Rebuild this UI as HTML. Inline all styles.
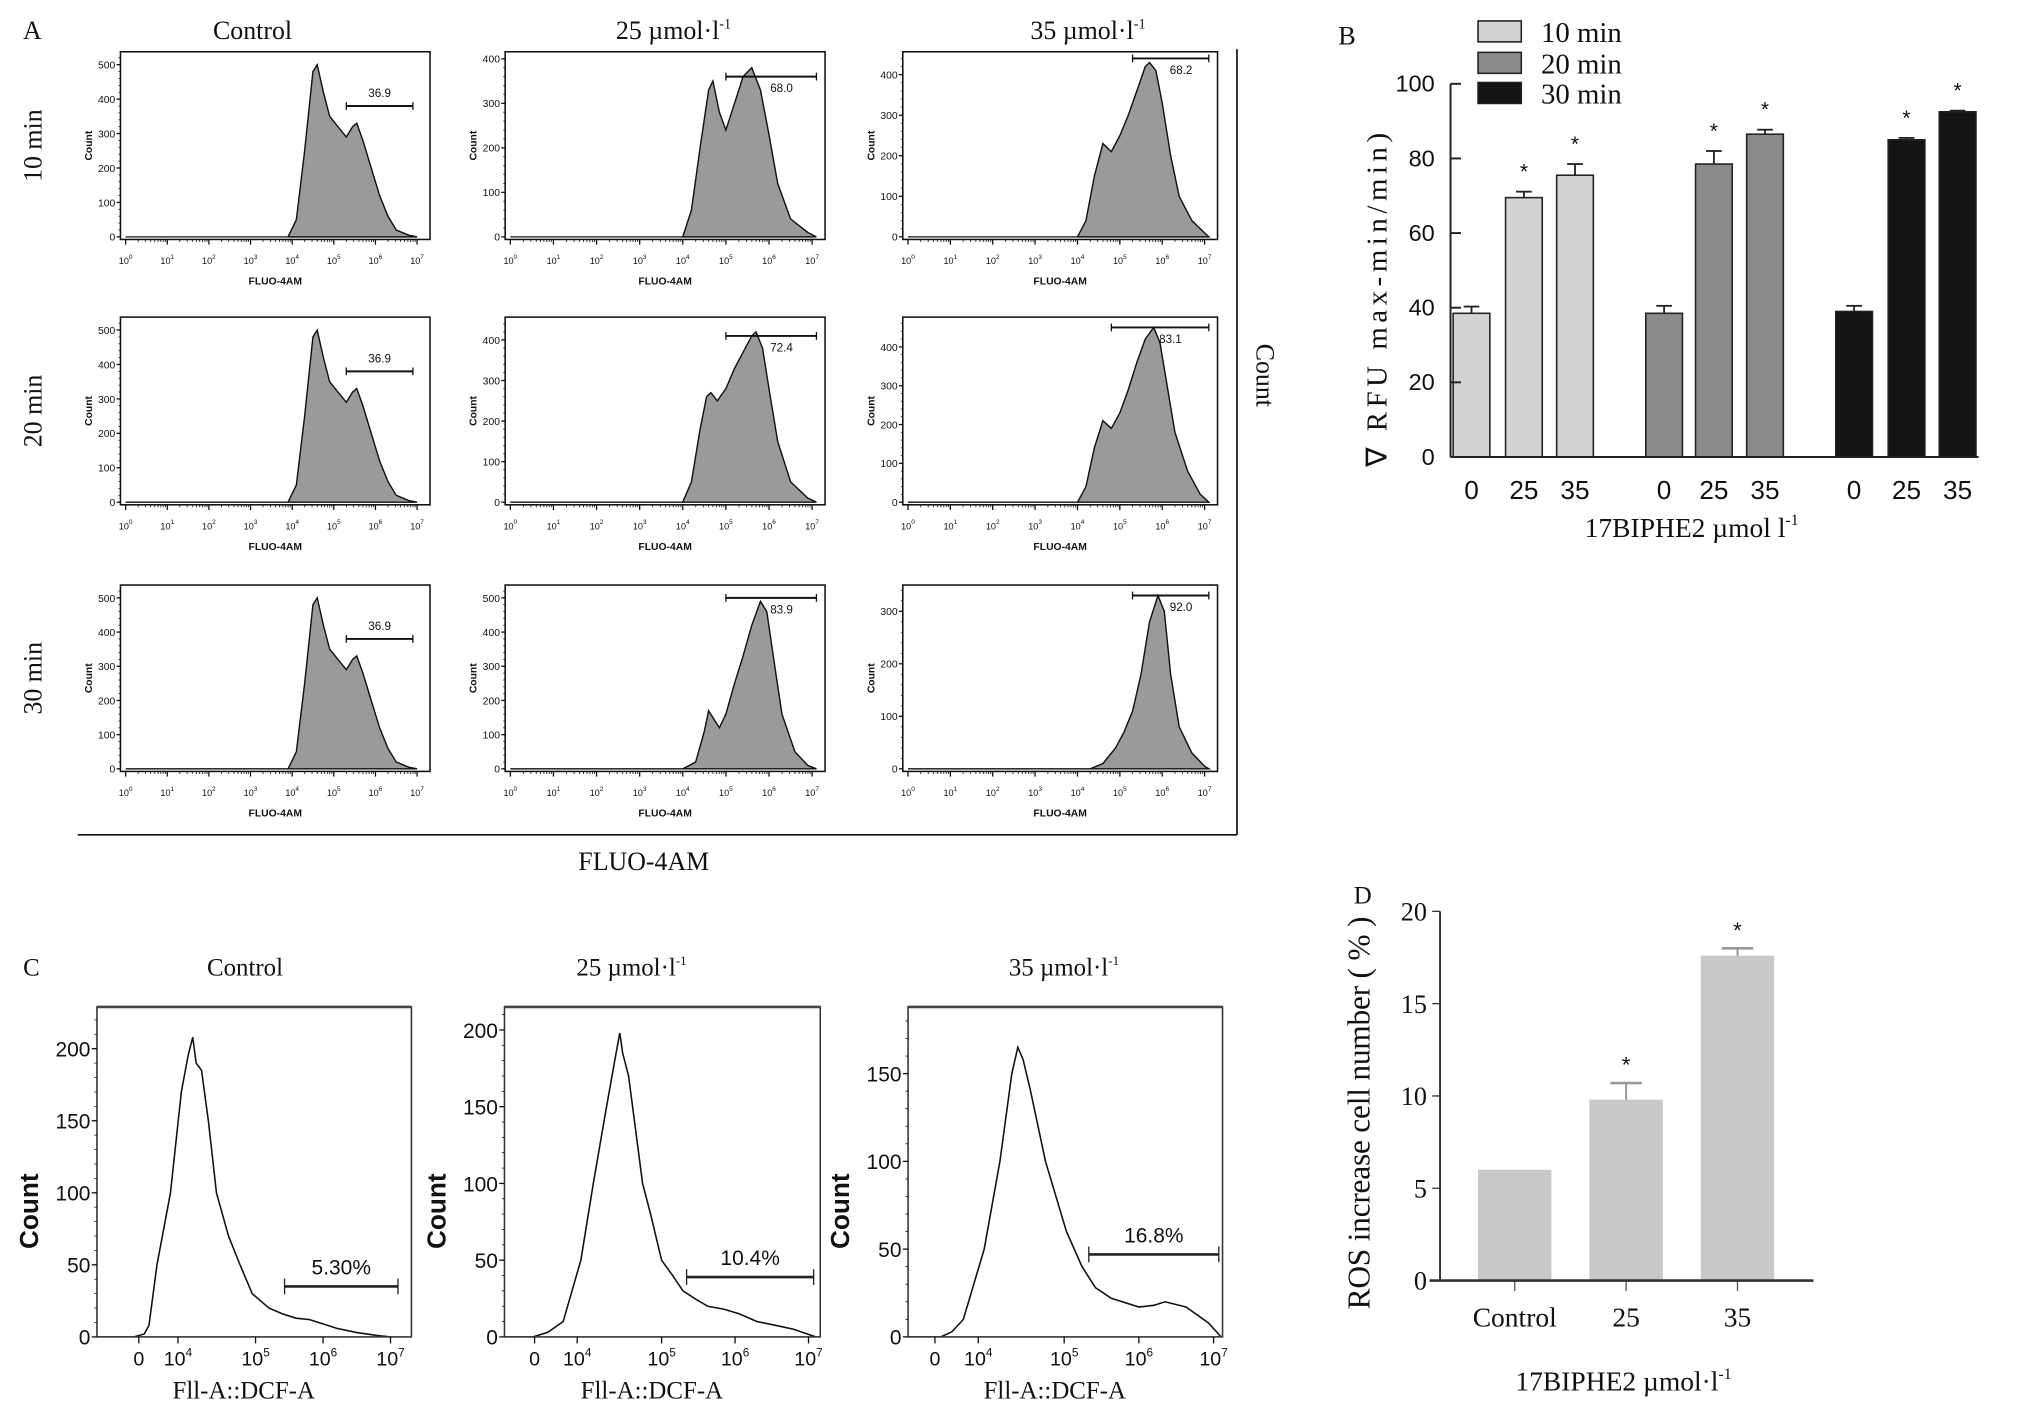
<!DOCTYPE html>
<html><head><meta charset="utf-8"><style>
html,body{margin:0;padding:0;background:#fff}
svg{display:block;font-family:"Liberation Serif",serif}
.s{font-family:"Liberation Sans",sans-serif}
</style></head><body>
<svg id="fig" width="2031" height="1422" viewBox="0 0 1550 1086" preserveAspectRatio="none" xmlns="http://www.w3.org/2000/svg"></svg>
<script>
// ---------- Panel A data ----------
const aColTitles = ["Control","25 µmol·l","35 µmol·l"];
const aRowTitles = ["10 min","20 min","30 min"];
const aGateLabels = [["36.9","68.0","68.2"],["36.9","72.4","83.1"],["36.9","83.9","92.0"]];
const aGateStart = [[5.3,5.0,5.3],[5.3,5.0,4.8],[5.3,5.0,5.3]];
const aGateEnd = [[6.9,7.1,7.1],[6.9,7.1,7.1],[6.9,7.1,7.1]];
const aGateY = [[380,360,440],[380,410,450],[380,500,330]];
const aYMax = [[530,410,450],[530,450,470],[530,530,345]];
const aYTicks = [[[0,100,200,300,400,500],[0,100,200,300,400],[0,100,200,300,400]],[[0,100,200,300,400,500],[0,100,200,300,400],[0,100,200,300,400]],[[0,100,200,300,400,500],[0,100,200,300,400,500],[0,100,200,300]]];
const ctrlX = [3.9,4.1,4.3,4.5,4.6,4.75,4.9,5.1,5.3,5.45,5.55,5.7,5.9,6.1,6.3,6.5,6.8,7.0];
const ctrlY = [0,50,250,480,500,420,350,320,290,320,330,280,200,120,60,20,5,0];
const c25_10X = [4.0,4.2,4.4,4.6,4.7,4.85,5.0,5.2,5.4,5.6,5.8,6.0,6.2,6.5,6.9,7.1];
const c25_10Y = [0,60,200,330,350,280,240,300,360,380,330,230,120,40,10,0];
const c25_20X = [4.0,4.2,4.4,4.55,4.65,4.8,5.0,5.2,5.4,5.6,5.7,5.85,6.0,6.2,6.5,6.9,7.1];
const c25_20Y = [0,50,180,260,270,250,280,330,370,410,420,380,280,150,50,10,0];
const c25_30X = [4.0,4.3,4.5,4.6,4.7,4.85,5.0,5.2,5.4,5.6,5.8,5.95,6.1,6.3,6.6,6.9,7.1];
const c25_30Y = [0,20,110,170,150,120,160,250,330,420,490,460,330,160,50,10,0];
const c35_10X = [4.0,4.2,4.4,4.6,4.8,5.0,5.2,5.4,5.6,5.7,5.85,6.0,6.2,6.4,6.7,7.0,7.1];
const c35_10Y = [0,40,150,230,210,250,300,360,420,430,410,330,200,100,40,10,0];
const c35_20X = [4.0,4.2,4.4,4.6,4.8,5.0,5.2,5.4,5.6,5.8,5.95,6.1,6.3,6.6,6.9,7.1];
const c35_20Y = [0,40,140,210,190,230,290,360,420,450,410,310,180,80,20,0];
const c35_30X = [4.3,4.6,4.9,5.1,5.3,5.5,5.7,5.9,6.05,6.2,6.4,6.7,7.0,7.1];
const c35_30Y = [0,10,40,70,110,180,280,330,300,180,80,30,5,0];
const aCurvesX = [[ctrlX,c25_10X,c35_10X],[ctrlX,c25_20X,c35_20X],[ctrlX,c25_30X,c35_30X]];
const aCurvesY = [[ctrlY,c25_10Y,c35_10Y],[ctrlY,c25_20Y,c35_20Y],[ctrlY,c25_30Y,c35_30Y]];

// ---------- Panel B data ----------
const bGroups = ["10 min","20 min","30 min"];
const bDoses = ["0","25","35"];
const bVals10 = [38.5,69.5,75.5];
const bVals20 = [38.5,78.5,86.5];
const bVals30 = [39,85,92.5];
const bErr10 = [1.8,1.6,3.0];
const bErr20 = [2.0,3.5,1.2];
const bErr30 = [1.5,0.5,0.3];
const bStars = [false,true,true];
const bYTicks = [0,20,40,60,80,100];

// ---------- Panel C data ----------
const cTitles = ["Control","25 µmol·l","35 µmol·l"];
const cGates = ["5.30%","10.4%","16.8%"];
const cGateStart = [5.43,5.34,5.33];
const cGateEnd = [7.11,7.07,7.07];
const cGateY = [35,39,47];
const cYMax = [229,215,188];
const cYTicks = [[0,50,100,150,200],[0,50,100,150,200],[0,50,100,150]];
const cXTickVals = [3.27,3.85,5,6,7];
const cXTickExp = ["","4","5","6","7"];
const cX1 = [3.2,3.35,3.42,3.54,3.74,3.9,4.0,4.07,4.12,4.2,4.3,4.42,4.6,4.77,4.95,5.05,5.2,5.4,5.6,5.8,6.0,6.2,6.5,6.8,7.0];
const cY1 = [0,2,8,50,100,170,195,208,190,185,150,100,70,50,30,26,20,16,13,12,9,6,3,1,0];
const cX2 = [3.25,3.45,3.66,3.9,4.07,4.25,4.38,4.43,4.47,4.55,4.74,4.85,5.0,5.15,5.29,5.45,5.63,5.85,6.06,6.3,6.5,6.79,7.1];
const cY2 = [0,3,10,50,100,150,185,198,185,170,100,80,50,40,30,25,20,18,15,10,8,5,0];
const cX3 = [3.35,3.5,3.65,3.93,4.14,4.3,4.38,4.45,4.55,4.75,5.03,5.24,5.42,5.63,6.0,6.2,6.35,6.63,6.93,7.1];
const cY3 = [0,3,10,50,100,150,165,158,140,100,60,40,28,22,17,18,20,17,8,0];
const cCurvesX = [cX1,cX2,cX3];
const cCurvesY = [cY1,cY2,cY3];

// ---------- Panel D data ----------
const dCats = ["Control","25","35"];
const dVals = [6.0,9.8,17.6];
const dErr = [0,0.9,0.4];
const dStars = [false,true,true];
const dYTicks = [0,5,10,15,20];

const NS="http://www.w3.org/2000/svg";
const svg=document.getElementById('fig');
function mk(tag,attrs,parent,text){const e=document.createElementNS(NS,tag);for(const k in attrs)e.setAttribute(k,attrs[k]);if(text!==undefined)e.textContent=text;(parent||svg).appendChild(e);return e;}
function txt(x,y,s,size,opts,parent){opts=opts||{};const a={x:x,y:y,'font-size':size,'text-anchor':opts.anchor||'middle',fill:opts.fill||'#111'};if(opts.cls)a['class']=opts.cls;if(opts.rot!==undefined)a.transform='rotate('+opts.rot+' '+x+' '+y+')';if(opts.weight)a['font-weight']=opts.weight;if(opts.len){a.textLength=opts.len;a.lengthAdjust='spacing';}return mk('text',a,parent,s);}

// ===== Panel A =====
const gA=mk('g',{transform:'scale(0.9885)'});


txt(25,30,"A",20,{},gA);
const colX0=[93,390,697], colX1=[332,637,940];
const rowY0=[40,245,452], rowY1=[185,390,596];
const colTitleX=[195,520,840];
aColTitles.forEach((t,i)=>{
  const e=txt(colTitleX[i],30,t,20,{},gA);
  
  
  if(i>0){mk('tspan',{'font-size':11,dy:-8},e,'-1');}
});
aRowTitles.forEach((t,r)=>{
  const y=(rowY0[r]+rowY1[r])/2;
  const e=txt(32,y,t,20,{rot:-90},gA);
  
  
});
for(let r=0;r<3;r++)for(let c=0;c<3;c++){
  const g=mk('g',{},gA);
  
  
  const x0=colX0[c],x1=colX1[c],y0=rowY0[r],y1=rowY1[r];
  const pad=4;
  const sx=v=>x0+pad+(v-0)/7*(x1-x0-2*pad-6);
  const sy=v=>y1-2-v/aYMax[r][c]*(y1-y0-4);
  let d='M'+sx(aCurvesX[r][c][0])+' '+sy(0);
  aCurvesX[r][c].forEach((xv,i)=>{d+=' L'+sx(xv).toFixed(1)+' '+sy(aCurvesY[r][c][i]).toFixed(1);});
  d+=' Z';
  mk('line',{x1:sx(0),y1:sy(0),x2:sx(aCurvesX[r][c][0]),y2:sy(0),stroke:'#111','stroke-width':1},g);
  const area=mk('path',{d:d,fill:'#9a9a9a',stroke:'#111','stroke-width':1.1},g);
  
  
  mk('rect',{x:x0,y:y0,width:x1-x0,height:y1-y0,fill:'none',stroke:'#111','stroke-width':1.2},g);
  aYTicks[r][c].forEach(v=>{
    const y=sy(v);
    mk('line',{x1:x0-3,y1:y,x2:x0,y2:y,stroke:'#111'},g);
    txt(x0-4,y+3,String(v),8,{anchor:'end',cls:'s'},g);
  });
  for(let v=0;v<=aYMax[r][c];v+=20){mk('line',{x1:x0-1.5,y1:sy(v),x2:x0,y2:sy(v),stroke:'#111','stroke-width':0.6},g);}
  for(let k=0;k<=7;k++){
    const x=sx(k);
    mk('line',{x1:x,y1:y1,x2:x,y2:y1+4,stroke:'#111'},g);
    for(let m=2;m<10&&k<7;m++){const xm=sx(k+Math.log10(m));mk('line',{x1:xm,y1:y1,x2:xm,y2:y1+2,stroke:'#111','stroke-width':0.6},g);}
    const t=txt(x,y1+19,'10',7,{cls:'s'},g);
    mk('tspan',{'font-size':5,dy:-4},t,String(k));
  }
  txt((x0+x1)/2,y1+35,"FLUO-4AM",8,{cls:'s',weight:'bold'},g);
  txt(x0-22,(y0+y1)/2,"Count",8,{cls:'s',rot:-90,weight:'bold'},g);
  const gy=sy(aGateY[r][c]);
  const ga=sx(aGateStart[r][c]), gb=sx(aGateEnd[r][c]);
  const gate=mk('g',{},g);
  
  
  mk('line',{x1:ga,y1:gy,x2:gb,y2:gy,stroke:'#111','stroke-width':1.5},gate);
  mk('line',{x1:ga,y1:gy-3,x2:ga,y2:gy+3,stroke:'#111'},gate);
  mk('line',{x1:gb,y1:gy-3,x2:gb,y2:gy+3,stroke:'#111'},gate);
  txt((ga+gb)/2+(c>0?8:0),c===0?gy-7:gy+12,aGateLabels[r][c],9,{cls:'s'},gate);
}
mk('line',{x1:955,y1:38,x2:955,y2:645,stroke:'#111','stroke-width':1.3},gA);
mk('line',{x1:60,y1:645,x2:955,y2:645,stroke:'#111','stroke-width':1.3},gA);
txt(970,290,"Count",20,{rot:90},gA);
txt(497,672,"FLUO-4AM",20,{},gA);

// ===== Panel B =====
const gB=mk('g',{});


txt(1028,34,"B",20,{},gB);
const bx0=1107,bx1=1510,by0=349,by1=64;
const bsy=v=>by0-v/100*(by0-by1);
const bColors=['#d3d3d3','#8a8a8a','#141414'];
const bVals=[bVals10,bVals20,bVals30], bErr=[bErr10,bErr20,bErr30];
const bCenters=[[1123,1163,1202],[1270,1308,1347],[1415,1455,1494]];
const bLegendY=[16,40,63];
bGroups.forEach((gname,gi)=>{
  const ly=bLegendY[gi];
  const lg=mk('g',{},gB);
  
  
  mk('rect',{x:1128,y:ly,width:33,height:16,fill:bColors[gi],stroke:'#222','stroke-width':1.2},lg);
  txt(1176,ly+16,gname,22,{anchor:'start'},lg);
  bDoses.forEach((dz,di)=>{
    const cx=bCenters[gi][di], v=bVals[gi][di], e=bErr[gi][di];
    const w=28;
    const bar=mk('rect',{x:cx-w/2,y:bsy(v),width:w,height:bsy(0)-bsy(v),fill:bColors[gi],stroke:'#222','stroke-width':1.2},gB);
    
    
    mk('line',{x1:cx,y1:bsy(v),x2:cx,y2:bsy(v+e),stroke:'#222','stroke-width':1.4},gB);
    mk('line',{x1:cx-6,y1:bsy(v+e),x2:cx+6,y2:bsy(v+e),stroke:'#222','stroke-width':1.4},gB);
    if(bStars[di])txt(cx,bsy(v+e)-10,"*",16,{cls:'s'},gB);
    txt(cx,381,dz,20,{cls:'s'},gB);
  });
});
mk('line',{x1:bx0,y1:by1,x2:bx0,y2:by0,stroke:'#222','stroke-width':1.5},gB);
mk('line',{x1:bx0,y1:by0,x2:bx1,y2:by0,stroke:'#222','stroke-width':1.5},gB);
bYTicks.forEach(v=>{
  mk('line',{x1:bx0,y1:bsy(v),x2:bx0+8,y2:bsy(v),stroke:'#222','stroke-width':1.5},gB);
  txt(bx0-12,bsy(v)+6,String(v),18,{anchor:'end',cls:'s'},gB);
});
const byl=txt(1058,229,"∇ RFU  max-min/min)",22,{rot:-90,len:255},gB);


const bxl=txt(1291,410,"17BIPHE2 µmol l",21,{},gB);


mk('tspan',{'font-size':12,dy:-9},bxl,'-1');

// ===== Panel C =====
const gC=mk('g',{});


txt(24,745,"C",19,{},gC);
const cFrameX0=[74,385,693], cFrameX1=[314,626,933];
const cDomLo=[2.65,2.86,2.91], cDomHi=[7.31,7.16,7.12];
const cTitleX=[187,482,812];
const cy0=769,cy1=1021;
for(let c=0;c<3;c++){
  const g=mk('g',{},gC);
  
  
  const tt=txt(cTitleX[c],745,cTitles[c],19,{},g);
  if(c>0)mk('tspan',{'font-size':10,dy:-8},tt,'-1');
  const x0=cFrameX0[c],x1=cFrameX1[c];
  const sx=v=>x0+(v-cDomLo[c])/(cDomHi[c]-cDomLo[c])*(x1-x0);
  const sy=v=>cy1-v/cYMax[c]*(cy1-cy0);
  let d='';
  cCurvesX[c].forEach((xv,i)=>{d+=(i?' L':'M')+sx(xv).toFixed(1)+' '+sy(cCurvesY[c][i]).toFixed(1);});
  mk('line',{x1:x0,y1:cy1,x2:sx(cCurvesX[c][0]),y2:cy1,stroke:'#111'},g);
  const ln=mk('path',{d:d,fill:'none',stroke:'#111','stroke-width':1.2},g);
  
  
  mk('rect',{x:x0,y:cy0,width:x1-x0,height:cy1-cy0,fill:'none',stroke:'#333','stroke-width':1.2},g);
  mk('line',{x1:x0,y1:cy0,x2:x1,y2:cy0,stroke:'#444','stroke-width':2},g);
  cYTicks[c].forEach(v=>{
    mk('line',{x1:x0-4,y1:sy(v),x2:x0,y2:sy(v),stroke:'#111'},g);
    txt(x0-5,sy(v)+6,String(v),16,{anchor:'end',cls:'s'},g);
  });
  for(let v=0;v<=cYMax[c];v+=10)mk('line',{x1:x0-2,y1:sy(v),x2:x0,y2:sy(v),stroke:'#111','stroke-width':0.6},g);
  cXTickVals.forEach((tv,i)=>{
    const x=sx(tv);
    mk('line',{x1:x,y1:cy1,x2:x,y2:cy1+5,stroke:'#111'},g);
    if(cXTickExp[i]===''){txt(x,cy1+22,"0",15,{cls:'s'},g);}
    else{const t=txt(x,cy1+22,'10',15,{cls:'s'},g);mk('tspan',{'font-size':9,dy:-7},t,cXTickExp[i]);}
  });
  txt((x0+x1)/2-8,1068,"Fll-A::DCF-A",19,{},g);
  txt(x0-45,(cy0+cy1)/2+30,"Count",20,{rot:-90,cls:'s',weight:'bold'},g);
  const ga=sx(cGateStart[c]), gb=sx(cGateEnd[c]), gy=sy(cGateY[c]);
  const gate=mk('g',{},g);
  
  
  mk('line',{x1:ga,y1:gy,x2:gb,y2:gy,stroke:'#222','stroke-width':2},gate);
  mk('line',{x1:ga,y1:gy-6,x2:ga,y2:gy+6,stroke:'#222'},gate);
  mk('line',{x1:gb,y1:gy-6,x2:gb,y2:gy+6,stroke:'#222'},gate);
  txt((ga+gb)/2,gy-9,cGates[c],16,{cls:'s'},gate);
}

// ===== Panel D =====
const gD=mk('g',{});


txt(1040,690,"D",19,{},gD);
const dx0=1099,dx1=1384,dy0=978,dy1=696;
const dsy=v=>dy0-v/20*(dy0-dy1);
const dCenters=[1156,1241,1326];
dCats.forEach((cat,i)=>{
  const cx=dCenters[i],w=56,v=dVals[i],e=dErr[i];
  const bar=mk('rect',{x:cx-w/2,y:dsy(v),width:w,height:dsy(0)-dsy(v),fill:'#c8c8c8'},gD);
  
  
  if(e>0){
    mk('line',{x1:cx,y1:dsy(v),x2:cx,y2:dsy(v+e),stroke:'#999','stroke-width':1.5},gD);
    mk('line',{x1:cx-12,y1:dsy(v+e),x2:cx+12,y2:dsy(v+e),stroke:'#999','stroke-width':2},gD);
  }
  if(dStars[i])txt(cx,dsy(v+e)-8,"*",17,{cls:'s'},gD);
  mk('line',{x1:cx,y1:dy0,x2:cx,y2:dy0+8,stroke:'#555'},gD);
  txt(cx,1013,cat,21,{},gD);
});
mk('line',{x1:dx0,y1:dy1,x2:dx0,y2:dy0,stroke:'#333','stroke-width':1.5},gD);
mk('line',{x1:dx0-8,y1:dy0,x2:dx1,y2:dy0,stroke:'#333','stroke-width':2},gD);
dYTicks.forEach(v=>{
  mk('line',{x1:dx0-6,y1:dsy(v),x2:dx0,y2:dsy(v),stroke:'#333'},gD);
  txt(dx0-10,dsy(v)+7,String(v),20,{anchor:'end'},gD);
});
const dyl=txt(1045,850,"ROS increase cell number ( % )",24,{rot:-90,len:300},gD);


const dxl=txt(1239,1062,"17BIPHE2 µmol·l",21,{},gD);


mk('tspan',{'font-size':12,dy:-9},dxl,'-1');
</script>
</body></html>
